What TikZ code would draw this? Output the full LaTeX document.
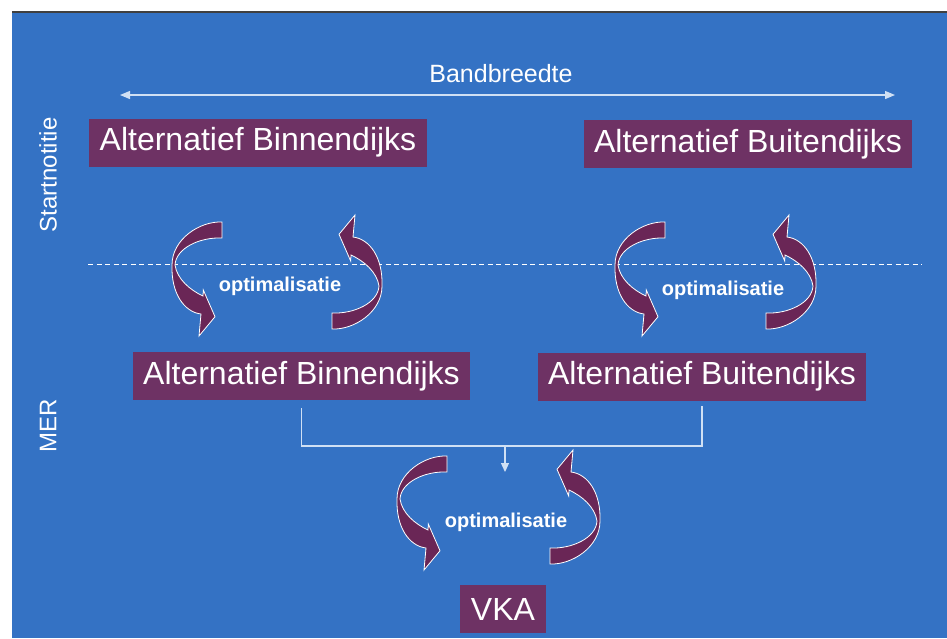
\documentclass[tikz,border=0pt]{standalone}
\usepackage{fontspec}
\setmainfont{Liberation Sans}
\usetikzlibrary{arrows.meta}

\definecolor{slideblue}{RGB}{52,114,196}
\definecolor{boxpurple}{RGB}{110,50,100}
\definecolor{turnpurple}{RGB}{106,38,86}
\definecolor{paleline}{RGB}{208,224,244}

\tikzset{
  altbox/.style={fill=boxpurple, text=white, inner xsep=10.5pt, inner ysep=0pt,
    minimum height=48pt, font=\fontsize{32}{32}\selectfont},
  sidelabel/.style={text=white, rotate=90, font=\fontsize{24}{24}\selectfont},
  optlabel/.style={text=white, font=\fontsize{20}{20}\selectfont\bfseries},
  conn/.style={paleline, line width=1.2pt},
  % broad curved arrow (crescent with a big head), tail at the top
  turn/.pic={
    \filldraw[fill=turnpurple, draw=white, line width=0.8pt]
      (22,-53) .. controls (0,-54) and (-28,-36) .. (-28,-10)
      .. controls (-29,18) and (-16,37) .. (1,39)
      -- (-1,61) -- (15,41.7) -- (3.3,15) -- (3,21)
      .. controls (-10,15) and (-23,4) .. (-25,-10)
      .. controls (-24,-27) and (0,-38) .. (22,-37)
      -- cycle;
  }
}

\begin{document}
\begin{tikzpicture}[x=1pt, y=-1pt]
  \useasboundingbox (0,0) rectangle (947,638);
  % slide background
  \fill[white] (0,0) rectangle (947,638);
  \fill[slideblue] (12,12) rectangle (947,638);
  \draw[black!75, line width=1.5pt] (12,12) -- (947,12);

  % phases
  \node[sidelabel] (startnot) at (48,175) {Startnotitie};
  \node[sidelabel] (mer) at (48,426) {MER};

  % bandwidth
  \coordinate (bwleft) at (120,95);
  \coordinate (bwright) at (895,95);
  \draw[paleline, line width=1.2pt, {Triangle[length=10pt, width=8pt]}-{Triangle[length=10pt, width=8pt]}] (bwleft) -- (bwright);
  \node[text=white, font=\fontsize{25}{25}\selectfont] (bw) at (501,74) {Bandbreedte};

  % alternatives in the Startnotitie
  \node[altbox] (startbin) at (258,142.5) {Alternatief Binnendijks};
  \node[altbox] (startbuit) at (748,144) {Alternatief Buitendijks};

  % border between the phases
  \draw[white, line width=1pt, dash pattern=on 5pt off 3.5pt] (88,264) -- (922,264);

  % optimisation steps
  \pic at (200,275) {turn};
  \pic[rotate=180] at (354,276) {turn};
  \node[optlabel] (optbin) at (280,286) {optimalisatie};
  \pic at (643,275) {turn};
  \pic[rotate=180] at (788,276) {turn};
  \node[optlabel] (optbuit) at (723,290) {optimalisatie};

  % alternatives in the MER
  \node[altbox] (merbin) at (301.5,376) {Alternatief Binnendijks};
  \node[altbox] (merbuit) at (702,376.5) {Alternatief Buitendijks};

  % joining towards the VKA
  \coordinate (join) at (505,446);
  \coordinate (vkain) at (505,472);
  \draw[conn] ([yshift=-8pt]merbin.south) |- (join) -| ([yshift=-5pt]merbuit.south);
  \draw[conn, -{Triangle[length=9pt, width=8pt]}] (join) -- (vkain);

  \pic at (425,509) {turn};
  \pic[rotate=180] at (572,511) {turn};
  \node[optlabel] (optvka) at (506,522) {optimalisatie};

  \node[altbox] (vka) at (503,609) {VKA};
\end{tikzpicture}
\end{document}
